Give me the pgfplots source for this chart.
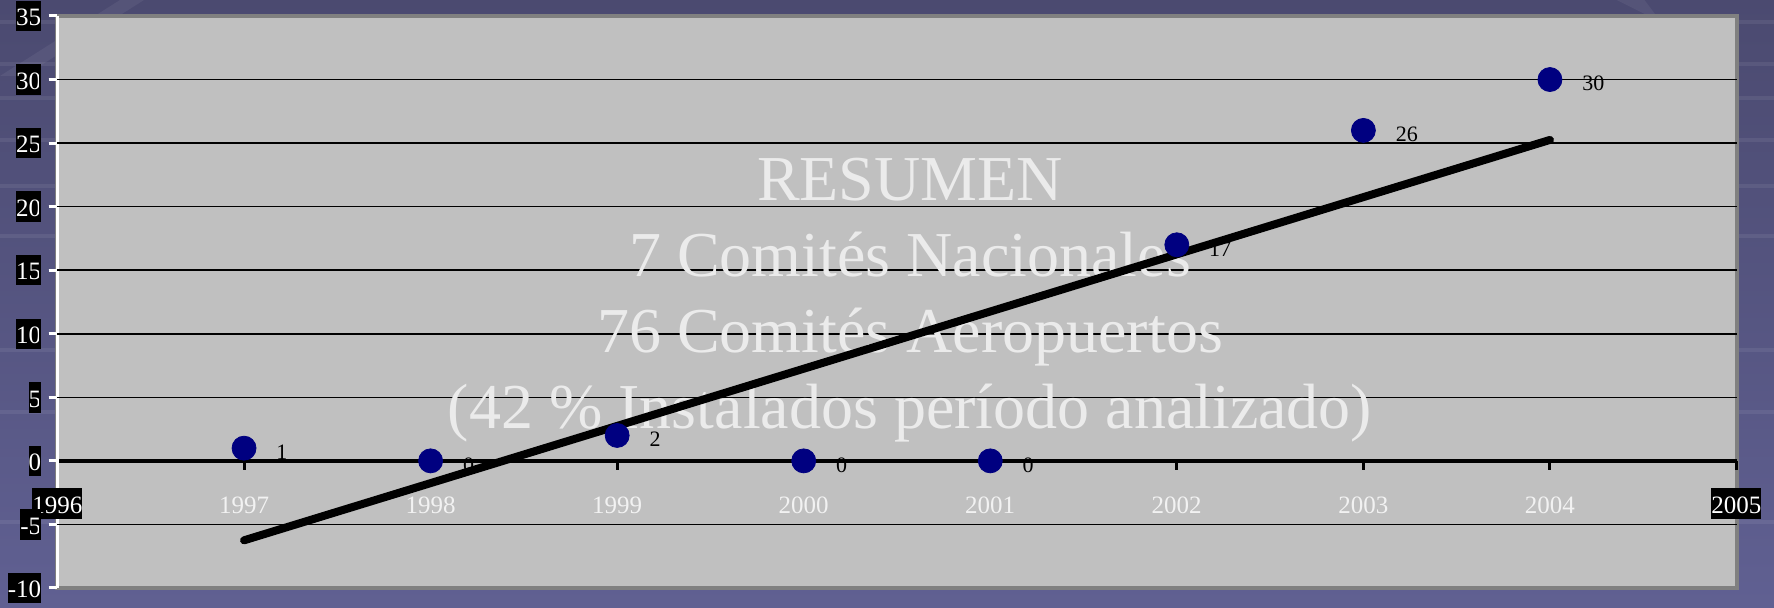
\documentclass[border=0pt]{standalone}
\usepackage{pgfplots}
\pgfplotsset{compat=1.18}
\usepackage{fontspec}
\setmainfont{Liberation Serif}
\usetikzlibrary{backgrounds}

\definecolor{bgtop}{HTML}{4B4A70}
\definecolor{bgbot}{HTML}{606092}
\definecolor{plotbg}{HTML}{C0C0C0}
\definecolor{plotedge}{HTML}{808080}
\definecolor{dotblue}{HTML}{000080}
\definecolor{bigtext}{HTML}{EBEBEB}
\definecolor{yearlbl}{HTML}{F2F2F2}

\newcommand{\blk}[1]{{\setlength{\fboxsep}{0pt}\colorbox{black}{\color{white}\rule[-3bp]{0pt}{15.5bp}#1}}}

\begin{document}
\begin{tikzpicture}
\begin{axis}[
    scale only axis,
    width=839.5bp, height=286bp,
    xmin=1996, xmax=2005,
    ymin=-10, ymax=35,
    axis x line=middle,
    axis y line=left,
    x axis line style={-, black, line width=2bp},
    y axis line style={-, white, line width=1.5bp},
    hide obscured x ticks=false,
    hide obscured y ticks=false,
    tick align=outside,
    major tick length=4.5bp,
    xtick={1996,...,2005},
    xticklabels={\blk{1996},1997,1998,1999,2000,2001,2002,2003,2004,\blk{2005}},
    xtick style={black, line width=1.5bp},
    xticklabel style={text=yearlbl, font=\fontsize{12.5bp}{15bp}\selectfont,
        anchor=north, inner sep=0pt, text height=12.5bp, text depth=3bp, yshift=-9bp},
    ytick={-10,-5,...,35},
    yticklabels={-10,-5,0,5,10,15,20,25,30,35},
    ytick style={white, line width=1.5bp},
    yticklabel style={fill=black, text=white, font=\fontsize{12.5bp}{15bp}\selectfont,
        anchor=east, inner sep=0pt, text height=12.5bp, text depth=2.75bp, xshift=-3.5bp},
    extra y ticks={-5,5,10,15,20,25,30},
    extra y tick labels={},
    extra y tick style={grid=major},
    major grid style={black, line width=0.75bp},
    axis background/.style={fill=plotbg, draw=plotedge, line width=2bp},
    /pgf/number format/assume math mode=true,
    clip=false,
]
\coordinate (sw) at (rel axis cs:0,0);
\coordinate (ne) at (rel axis cs:1,1);

% summary text, above the grid and below the plotted lines
\node[text=bigtext, font=\fontsize{32bp}{38bp}\selectfont, anchor=base] at (axis cs:2000.57,20.47) {RESUMEN};
\node[text=bigtext, font=\fontsize{32bp}{38bp}\selectfont, anchor=base] at (axis cs:2000.57,14.50) {7 Comités Nacionales};
\node[text=bigtext, font=\fontsize{32bp}{38bp}\selectfont, anchor=base] at (axis cs:2000.57,8.53) {76 Comités Aeropuertos};
\node[text=bigtext, font=\fontsize{32bp}{38bp}\selectfont, anchor=base] at (axis cs:2000.57,2.57) {(42 \% Instalados período analizado)};

% linear trend
\addplot[black, line width=4bp, line cap=round] coordinates {
    (1997,-6.25) (2004,25.25)
};

% yearly values
\addplot[only marks, mark=*, mark size=6bp, dotblue,
    nodes near coords,
    nodes near coords style={black, anchor=west, inner sep=0pt, xshift=16bp, yshift=-2bp,
        font=\fontsize{11bp}{13bp}\selectfont}]
coordinates {
    (1997,1) (1998,0) (1999,2) (2000,0) (2001,0) (2002,17) (2003,26) (2004,30)
};
\end{axis}
\begin{scope}[on background layer]
\shade[top color=bgtop, bottom color=bgbot]
    ([shift={(-28.75bp,-10bp)}]sw) rectangle ([shift={(18.75bp,8bp)}]ne);
% faint light bands of the slide background
\foreach \yy in {10,31,48,69,92,117,174,205,260} {
    \fill[white, opacity=0.07]
        ([shift={(-28.75bp,-\yy bp)}]sw |- ne) ++(0,8bp) rectangle ++(887bp,-2bp);
}
\fill[white, opacity=0.06] ([shift={(-28.75bp,-30bp)}]sw |- ne) -- ++(12bp,0) -- ++(60bp,38bp) -- ++(-12bp,0) -- cycle;
\fill[white, opacity=0.06] ([shift={(-60bp,8bp)}]ne) -- ++(14bp,0) -- ++(30bp,-40bp) -- ++(0,18bp) -- cycle;
\end{scope}
\pgfresetboundingbox
\path[use as bounding box] ([shift={(-28.75bp,-10bp)}]sw) rectangle ([shift={(18.75bp,8bp)}]ne);
\end{tikzpicture}
\end{document}
